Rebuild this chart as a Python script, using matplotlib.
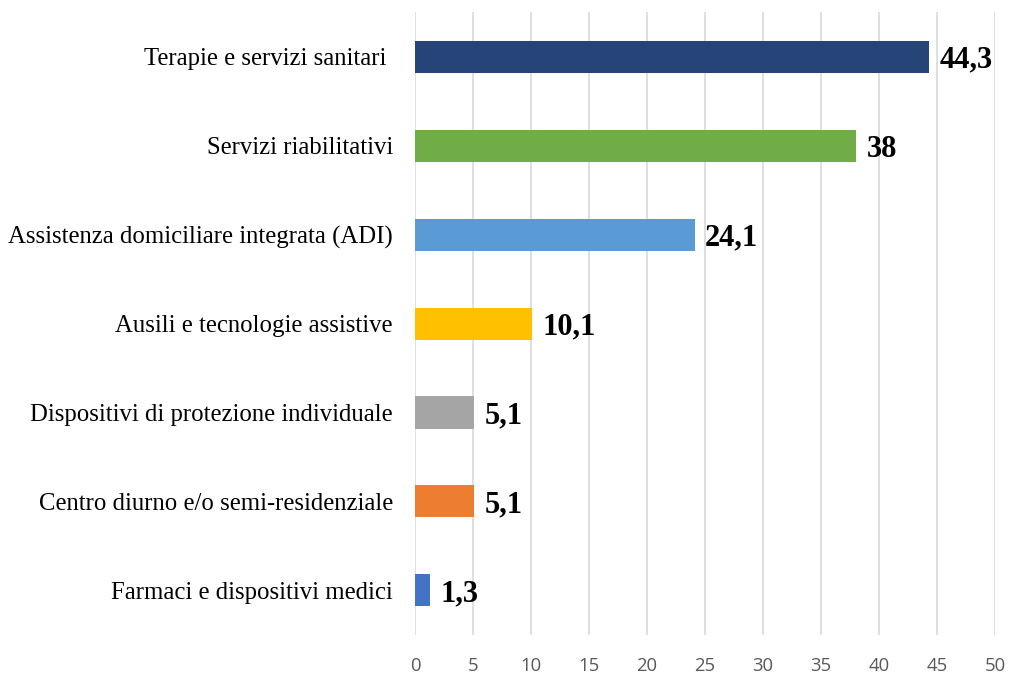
import matplotlib.pyplot as plt

categories = [
    "Farmaci e dispositivi medici",
    "Centro diurno e/o semi-residenziale",
    "Dispositivi di protezione individuale",
    "Ausili e tecnologie assistive",
    "Assistenza domiciliare integrata (ADI)",
    "Servizi riabilitativi",
    "Terapie e servizi sanitari ",
]
values = [1.3, 5.1, 5.1, 10.1, 24.1, 38, 44.3]
value_labels = ["1,3", "5,1", "5,1", "10,1", "24,1", "38", "44,3"]
colors = ["#4472C4", "#ED7D31", "#A5A5A5", "#FFC000", "#5B9BD5", "#70AD47", "#264478"]

fig = plt.figure(figsize=(10.09, 6.74), dpi=100)
ax = fig.add_axes([0.4113, 0.058, 0.575, 0.924])

ax.barh(range(len(categories)), values, height=0.36, color=colors, zorder=3)
for i, (v, lab) in enumerate(zip(values, value_labels)):
    ax.annotate(lab, (v, i), xytext=(7.5, 0), textcoords="offset points",
                va="center_baseline", ha="left", fontsize=22, fontweight="bold",
                family="Liberation Serif", color="black")

ax.set_xlim(0, 50)
ax.set_ylim(-0.5, len(categories) - 0.5)
ax.set_xticks(range(0, 51, 5))
ax.set_yticks(range(len(categories)))
ax.set_yticklabels(categories, family="Liberation Serif", fontsize=17.8)
ax.grid(axis="x", color="#D9D9D9", linewidth=1.2, zorder=0)
for s in ax.spines.values():
    s.set_visible(False)
ax.tick_params(axis="both", length=0)
ax.tick_params(axis="y", pad=16)
ax.tick_params(axis="x", pad=16, labelsize=13.3, labelcolor="#595959")
for t in ax.get_xticklabels():
    t.set_family("Open Sans")

fig.savefig("out.png", dpi=100)
